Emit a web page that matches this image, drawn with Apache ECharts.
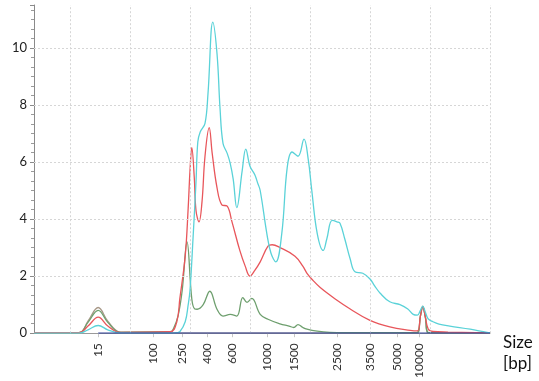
<!DOCTYPE html>
<html><head><meta charset="utf-8">
<script src="https://cdn.jsdelivr.net/npm/echarts@6/dist/echarts.min.js"></script>
<style>html,body{margin:0;padding:0;background:#fff}#c{width:539px;height:381px}</style>
</head><body><div id="c"></div>
<script>
// x axis: migration time (s); labels show fragment size in bp
const sizeLabels = ['15','100','250','400','600','1000','1500','2500','3500','5000','10000'];
const sizeLabelTimes = [24.7,33.8,38.7,42.8,47.0,52.8,57.3,64.5,70.0,74.5,78.2];
const gridTimes = [20,30,40,50,60,70,80,90];
const yTickLabels = [0,2,4,6,8,10];
const yGridValues = [2,4,6,8,10];

const cyanTime = [14,21.5,23,24.7,26.3,28.3,36.7,37.8,38.3,39.2,39.7,40,40.5,41,41.3,41.7,42.5,43,43.8,44.5,45,45.5,46.2,46.7,47.2,47.8,48.7,49.3,50,50.8,51.3,51.7,52.8,53.5,54.3,55.3,56.2,57,58,59,59.7,60.3,61.2,62.2,62.8,63.7,64.5,65,65.8,66.7,67.5,68.8,70,70.8,71.7,73.3,75,76.3,77.2,77.9,78.4,78.8,79.2,79.7,80.5,81.5,83.3,86.7,89.5,90];
const cyanSignal = [0,0,0.12,0.27,0.12,0.01,0,0.02,0.05,0.4,1.0,1.5,3.3,5.3,6.7,7.05,7.35,8.4,10.9,9.8,7.9,6.65,6.3,5.95,5.4,4.4,5.7,6.45,5.85,5.55,5.25,5.0,3.5,2.8,2.5,3.5,5.8,6.35,6.2,6.8,6.1,5.0,3.5,2.9,3.3,3.95,3.9,3.85,3.3,2.6,2.15,2.1,1.9,1.65,1.4,1.1,1.0,0.85,0.66,0.63,0.8,0.95,0.75,0.5,0.4,0.32,0.25,0.14,0.03,0.02];

const redTime = [14,21.5,23,24.7,26.3,28.3,36.7,37.8,38.3,39.2,39.7,40,40.3,40.7,41,41.5,42,42.5,43.2,43.7,44.5,45.3,46.2,47,48.3,49.2,50,50.8,51.7,53,53.7,55,57.5,58.8,59.5,60.5,61.7,64.2,66.7,70,73.3,76.7,77.9,78.4,78.8,79.2,79.7,80.5,83,90];
const redSignal = [0.02,0.02,0.25,0.56,0.25,0.03,0.05,0.4,1.2,2.7,4.4,5.7,6.5,5.5,4.3,3.9,4.6,6.2,7.2,6.3,5.1,4.5,4.45,3.9,2.9,2.35,2.0,2.2,2.5,3.05,3.1,3.0,2.7,2.35,2.1,1.85,1.6,1.2,0.85,0.45,0.22,0.1,0.08,0.6,0.93,0.6,0.15,0.06,0.04,0.01];

const greenTime = [14,21.5,23,24.7,26.3,28.3,36.7,37.2,38,38.7,39.5,40.3,40.8,41.2,42.2,43.3,44.5,45.5,46.7,47.8,48.8,49.5,50.3,51.7,53,55,56.5,57.3,58,58.8,59.5,61.2,63.3,66,77.8,78.4,78.8,79.2,79.8,90];
const greenSignal = [0.02,0.02,0.38,0.8,0.38,0.04,0.05,0.14,0.6,1.5,3.2,1.2,0.85,0.84,1.0,1.47,0.84,0.6,0.66,0.6,1.25,1.08,1.22,0.66,0.49,0.33,0.25,0.2,0.3,0.2,0.14,0.07,0.03,0.02,0.02,0.6,0.93,0.6,0.02,0.01];

const ladderTime = [14,21.5,23,24.7,26.3,28.3,30,77.8,78.4,78.8,79.2,79.8,90];
const ladderSignal = [0,0,0.42,0.9,0.42,0.03,0,0,0.6,0.95,0.6,0,0];

const blankTime = [24.7,90];
const blankSignal = [0,0];

const pairs = (t, v) => t.map((x, i) => [x, v[i]]);

const chart = echarts.init(document.getElementById('c'));
const font = 'Lato, "Open Sans", sans-serif';
const gridStyle = {color: '#d6d6d6', type: [2, 2], width: 1};
const mkSeries = (name, t, v, color, z, extra) => Object.assign({
  name, type: 'line', data: pairs(t, v), smooth: 0.4, showSymbol: false, symbol: 'none',
  lineStyle: {color, width: 1.3}, itemStyle: {color}, z, silent: true, animation: false
}, extra || {});

chart.setOption({
  animation: false,
  grid: {left: 34, right: 49, top: 5, bottom: 47},
  xAxis: {
    type: 'value', min: 14, max: 90,
    name: 'Size\n[bp]', nameLocation: 'end', nameGap: 13,
    nameTextStyle: {fontFamily: font, fontSize: 17, color: '#111', align: 'left', verticalAlign: 'top', lineHeight: 21, padding: [-1, 0, 0, 0]},
    axisLine: {show: true, lineStyle: {color: '#9a9a9a', width: 1}},
    axisTick: {show: true, customValues: sizeLabelTimes, length: 4, lineStyle: {color: '#c8c8c8'}},
    axisLabel: {
      customValues: sizeLabelTimes, rotate: 90, margin: 10, fontFamily: font, fontSize: 12, color: '#333',
      formatter: (val) => {
        const i = sizeLabelTimes.findIndex(t => Math.abs(t - val) < 0.01);
        return i >= 0 ? sizeLabels[i] : '';
      }
    },
    splitLine: {show: false}
  },
  yAxis: {
    type: 'value', min: 0, max: 11.5, interval: 2,
    axisLine: {show: true, lineStyle: {color: '#8a8a8a', width: 1}},
    axisTick: {show: true, length: 4, lineStyle: {color: '#8a8a8a'}},
    minorTick: {show: true, splitNumber: 6, length: 3, lineStyle: {color: '#9a9a9a'}},
    axisLabel: {fontFamily: font, fontSize: 13, color: '#222', margin: 7,
      formatter: (v) => yTickLabels.includes(v) ? String(v) : ''},
    splitLine: {show: false}
  },
  series: [
    mkSeries('ladder', ladderTime, ladderSignal, '#a89888', 2, {
      markLine: {
        silent: true, symbol: 'none', label: {show: false}, animation: false,
        lineStyle: gridStyle,
        data: gridTimes.map(t => ({xAxis: t})).concat(yGridValues.map(v => ({yAxis: v})))
      }
    }),
    mkSeries('green', greenTime, greenSignal, '#6e9f6e', 3),
    mkSeries('red', redTime, redSignal, '#e8565b', 4),
    mkSeries('cyan', cyanTime, cyanSignal, '#5ad2d8', 5),
    mkSeries('blank', blankTime, blankSignal, '#35459a', 6)
  ]
});
</script>
</body></html>
